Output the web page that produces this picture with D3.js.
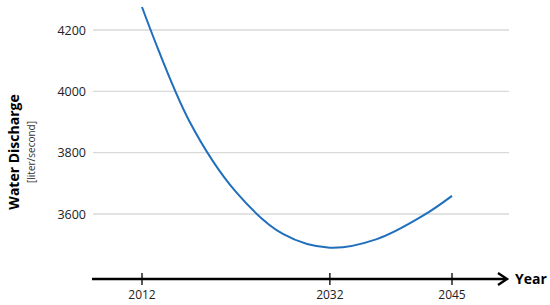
<html>
<head>
<style>
  body { margin: 0; background: #fff; }
  text { font-family: "Open Sans", "Noto Sans", sans-serif; }
</style>
</head>
<body>
  <svg id="chart"></svg>

  <script src="https://d3js.org/d3.v7.min.js"></script>
  <script>
    // data
    var years = [2012, 2017, 2022, 2027, 2032, 2037, 2042, 2045]
    var discharge = [4275, 3905, 3672, 3535, 3490, 3518, 3596, 3659]
    var yTicks = [3600, 3800, 4000, 4200]
    var xTicks = [2012, 2032, 2045]

    var width = 550, height = 305

    var svg = d3.select('#chart')
                .attr('width', width)
                .attr('height', height)

    var x = d3.scaleLinear().domain([2012, 2045]).range([142, 452])
    var y = d3.scaleLinear().domain([3600, 4200]).range([214, 30])

    // gridlines
    svg.selectAll('.grid')
       .data(yTicks)
       .enter()
       .append('line')
       .attr('x1', 93).attr('x2', 509)
       .attr('y1', function(d) { return y(d) })
       .attr('y2', function(d) { return y(d) })
       .style('stroke', '#d9d9d9')
       .style('stroke-width', 1.3)

    // y tick labels
    svg.selectAll('.ylab')
       .data(yTicks)
       .enter()
       .append('text')
       .attr('x', 86)
       .attr('y', function(d) { return y(d) + 4.5 })
       .attr('text-anchor', 'end')
       .style('font-size', '12.5px')
       .style('fill', '#222')
       .text(function(d) { return d })

    // x axis with arrow
    var axisY = 279
    svg.append('line')
       .attr('x1', 92).attr('x2', 506)
       .attr('y1', axisY).attr('y2', axisY)
       .style('stroke', '#000').style('stroke-width', 2.4)
    svg.append('path')
       .attr('d', 'M498,273 L507,' + axisY + ' L498,285')
       .style('fill', 'none').style('stroke', '#000').style('stroke-width', 2.4)

    svg.selectAll('.xtick')
       .data(xTicks)
       .enter()
       .append('line')
       .attr('x1', function(d) { return x(d) }).attr('x2', function(d) { return x(d) })
       .attr('y1', axisY - 6).attr('y2', axisY + 6)
       .style('stroke', '#000').style('stroke-width', 1.3)

    svg.selectAll('.xlab')
       .data(xTicks)
       .enter()
       .append('text')
       .attr('x', function(d) { return x(d) })
       .attr('y', 299)
       .attr('text-anchor', 'middle')
       .style('font-size', '12px')
       .style('fill', '#222')
       .text(function(d) { return d })

    svg.append('text')
       .attr('x', 515).attr('y', 284)
       .style('font-size', '14px').style('font-weight', 'bold')
       .text('Year')

    // y axis titles
    svg.append('text')
       .attr('transform', 'translate(19,152) rotate(-90)')
       .attr('text-anchor', 'middle')
       .style('font-size', '14px').style('font-weight', 'bold')
       .text('Water Discharge')
    svg.append('text')
       .attr('transform', 'translate(35,152) rotate(-90)')
       .attr('text-anchor', 'middle')
       .style('font-size', '10px')
       .style('fill', '#333')
       .text('[liter/second]')

    // the curve
    var line = d3.line()
                 .x(function(d, i) { return x(years[i]) })
                 .y(function(d) { return y(d) })
                 .curve(d3.curveCatmullRom.alpha(0.5))

    svg.append('path')
       .attr('d', line(discharge))
       .style('fill', 'none')
       .style('stroke', '#1f6fbd')
       .style('stroke-width', 2)
  </script>
</body>
</html>
